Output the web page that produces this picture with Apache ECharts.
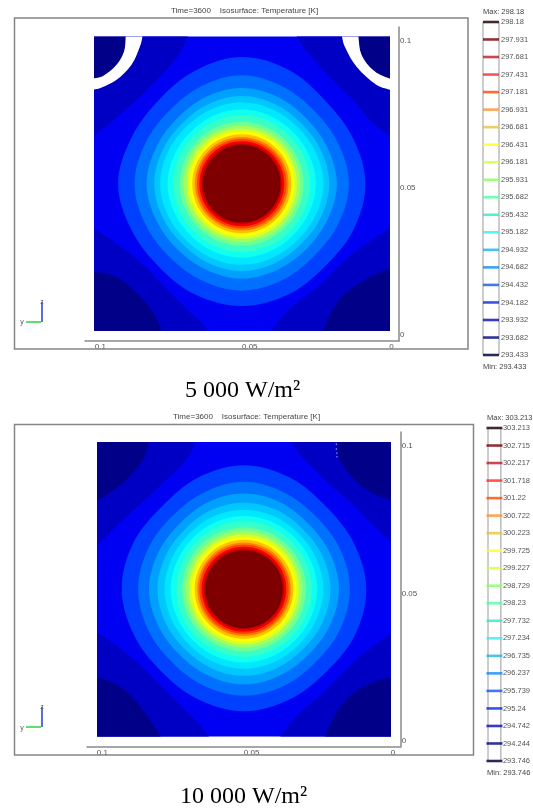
<!DOCTYPE html>
<html><head><meta charset="utf-8">
<style>html,body{margin:0;padding:0;background:#fff}#c{width:533px;height:809px;filter:blur(0.45px)}</style>
<script src="https://cdn.jsdelivr.net/npm/echarts@6/dist/echarts.min.js"></script>
</head><body><div id="c"></div>
<script>
// Contour radii in mm around the heated core, clockwise from N in 16 steps
const ringAngles16 = [0,22.5,45,67.5,90,112.5,135,157.5,180,202.5,225,247.5,270,292.5,315,337.5];
const ringColors = ['#0040ff','#0070ff','#00a0ff','#00c8ff','#00e8ff','#10ffee','#38ffc8','#70ff90','#a0ff60','#d8ff28','#ffff00','#ffc000','#ff8000','#ff4000','#f00000','#b00000','#7f0000'];
const rings5000 = [
 [43.0,41.8,40.0,40.8,42.0,41.0,39.8,40.8,41.5,40.8,39.8,40.6,42.0,40.6,40.0,41.5],
 [36.8,35.8,34.9,35.5,36.4,35.5,34.7,35.5,36.3,35.5,34.9,35.5,36.4,35.5,34.9,35.8],
 [32.5,31.9,31.2,31.6,32.3,31.6,31.2,31.6,32.2,31.6,31.2,31.6,32.3,31.6,31.2,31.9],
 [29.8,29.3,28.8,29.2,29.7,29.2,28.7,29.2,29.6,29.2,28.7,29.2,29.7,29.2,28.8,29.3],
 [27.6,27.3,27.0,27.3,27.7,27.3,26.9,27.2,27.5,27.2,26.9,27.3,27.7,27.3,27.0,27.3],
 [25.2,25.0,24.7,24.9,25.2,24.9,24.7,24.9,25.1,24.9,24.7,24.9,25.2,24.9,24.7,25.0],
 [23.3,23.2,23.0,23.1,23.2,23.1,23.0,23.1,23.2,23.1,23.0,23.1,23.2,23.1,23.0,23.2],
 [21.0,21.0,20.9,21.0,21.0,21.0,20.9,21.0,21.0,21.0,20.9,21.0,21.0,21.0,20.9,21.0],
 [19.8,19.8,19.8,19.8,19.8,19.8,19.8,19.8,19.8,19.8,19.8,19.8,19.8,19.8,19.8,19.8],
 [18.7,18.7,18.7,18.7,18.7,18.7,18.7,18.7,18.7,18.7,18.7,18.7,18.7,18.7,18.7,18.7],
 [17.8,17.8,17.8,17.8,17.8,17.8,17.8,17.8,17.8,17.8,17.8,17.8,17.8,17.8,17.8,17.8],
 [16.8,16.8,16.8,16.8,16.8,16.8,16.8,16.8,16.8,16.8,16.8,16.8,16.8,16.8,16.8,16.8],
 [15.9,15.9,15.9,15.9,15.9,15.9,15.9,15.9,15.9,15.9,15.9,15.9,15.9,15.9,15.9,15.9],
 [15.2,15.2,15.2,15.2,15.2,15.2,15.2,15.2,15.2,15.2,15.2,15.2,15.2,15.2,15.2,15.2],
 [14.4,14.4,14.4,14.4,14.4,14.4,14.4,14.4,14.4,14.4,14.4,14.4,14.4,14.4,14.4,14.4],
 [13.6,13.6,13.6,13.6,13.6,13.6,13.6,13.6,13.6,13.6,13.6,13.6,13.6,13.6,13.6,13.6],
 [12.85,12.85,12.85,12.85,12.85,12.85,12.85,12.85,12.85,12.85,12.85,12.85,12.85,12.85,12.85,12.85]
];
const rings10000 = [
 [42.1,41.0,39.6,40.5,41.6,40.8,39.6,40.5,41.4,40.5,39.6,40.5,41.6,40.8,39.6,41.0],
 [36.5,35.6,34.8,35.4,36.0,35.4,34.7,35.5,36.2,35.5,34.8,35.4,36.0,35.4,34.8,35.6],
 [32.5,32.0,31.2,31.7,32.3,31.7,31.2,31.7,32.3,31.7,31.2,31.7,32.3,31.7,31.2,32.0],
 [29.4,29.1,28.6,29.0,29.4,29.0,28.6,29.0,29.4,29.0,28.6,29.0,29.4,29.0,28.6,29.1],
 [27.0,26.8,26.5,26.7,27.0,26.7,26.5,26.7,27.0,26.7,26.5,26.7,27.0,26.7,26.5,26.8],
 [24.9,24.8,24.6,24.7,24.9,24.7,24.6,24.7,24.9,24.7,24.6,24.7,24.9,24.7,24.6,24.8],
 [23.0,23.0,22.9,22.9,23.0,22.9,22.9,22.9,23.0,22.9,22.9,22.9,23.0,22.9,22.9,23.0],
 [21.0,21.0,21.0,21.0,21.0,21.0,21.0,21.0,21.0,21.0,21.0,21.0,21.0,21.0,21.0,21.0],
 [19.8,19.8,19.8,19.8,19.8,19.8,19.8,19.8,19.8,19.8,19.8,19.8,19.8,19.8,19.8,19.8],
 [18.7,18.7,18.7,18.7,18.7,18.7,18.7,18.7,18.7,18.7,18.7,18.7,18.7,18.7,18.7,18.7],
 [17.8,17.8,17.8,17.8,17.8,17.8,17.8,17.8,17.8,17.8,17.8,17.8,17.8,17.8,17.8,17.8],
 [16.8,16.8,16.8,16.8,16.8,16.8,16.8,16.8,16.8,16.8,16.8,16.8,16.8,16.8,16.8,16.8],
 [15.9,15.9,15.9,15.9,15.9,15.9,15.9,15.9,15.9,15.9,15.9,15.9,15.9,15.9,15.9,15.9],
 [15.2,15.2,15.2,15.2,15.2,15.2,15.2,15.2,15.2,15.2,15.2,15.2,15.2,15.2,15.2,15.2],
 [14.4,14.4,14.4,14.4,14.4,14.4,14.4,14.4,14.4,14.4,14.4,14.4,14.4,14.4,14.4,14.4],
 [13.6,13.6,13.6,13.6,13.6,13.6,13.6,13.6,13.6,13.6,13.6,13.6,13.6,13.6,13.6,13.6],
 [12.9,12.9,12.9,12.9,12.9,12.9,12.9,12.9,12.9,12.9,12.9,12.9,12.9,12.9,12.9,12.9]
];
// Corner regions, [x,y] in mm (x runs 100 to 0 left to right); ends go past the plot edge and get clipped
const blueBase = [[-10,-10],[110,-10],[110,110],[-10,110]];
const darkCorners5000 = [
 [[67.6,105],[68.2,100.2],[71.9,93.1],[77.3,86.9],[84.6,79.5],[92.6,72.4],[100.2,66.3],[105,62.5],[105,105]],
 [[31.4,100.2],[26.9,93.7],[20.6,86.9],[12.1,78.4],[6.5,71.6],[0,66.3],[-4.9,62.5],[-4.9,105],[33,105]],
 [[-4.9,38],[0,34.8],[7.6,29.7],[15.5,23.5],[23.5,15.5],[33.6,7.6],[39.9,0],[42,-4.9],[-4.9,-4.9]],
 [[105,38],[100.2,34.8],[92.6,29.7],[84.6,23.5],[76.7,15.5],[68.8,7.6],[61.4,0],[60,-4.9],[105,-4.9]]
];
const navyCorners5000 = [
 [[-4.9,22],[0,21.2],[8.7,17],[15.5,12.1],[20.1,5.3],[22.3,0],[23,-4.9],[-4.9,-4.9]],
 [[105,20],[100.2,20.1],[92.6,18.4],[85.8,13],[80.1,6.4],[77.3,0],[76,-4.9],[105,-4.9]]
];
const whiteCaps5000 = [
 [[83.5,105],[83.7,100.2],[84.6,96.5],[87.5,90.3],[92.6,85.2],[98.2,82.4],[100.2,82],[105,81],[105,105]],
 [[16.5,105],[16,100.2],[15,96.5],[11,89.7],[4.2,83.5],[0,82],[-4.9,81],[-4.9,105]]
];
const navyCaps5000 = [
 [[89.2,105],[89.4,100.2],[90,94.8],[92.6,90.3],[97.1,86.6],[100.2,85.8],[105,85.5],[105,105]],
 [[10.7,105],[10.4,100.2],[9.3,93.7],[5.3,88.5],[0,85.8],[-4.9,85.5],[-4.9,105]]
];
const darkCorners10000 = [
 [[66,105],[66.5,99.9],[69.9,93.7],[77.3,86.3],[84.6,79.5],[92.6,72.2],[99.9,64.8],[105,60],[105,105]],
 [[33,105],[33.6,99.9],[29.1,93.7],[22.3,86.9],[13.3,79],[6.5,72.2],[0,65.9],[-4.9,60],[-4.9,105]],
 [[-4.9,38],[0,34.8],[7.6,29.7],[14.4,23.5],[23.5,14.4],[31.4,7.6],[37.6,0],[40,-4.9],[-4.9,-4.9]],
 [[105,38],[99.9,35.3],[92.6,30.3],[84.6,23.5],[75.6,14.4],[67.6,6.5],[62,0],[60,-4.9],[105,-4.9]]
];
const navyCorners10000 = [
 [[-4.9,20],[0,20.1],[8.7,17.2],[15.5,12.1],[20.1,5.3],[22.3,0],[23,-4.9],[-4.9,-4.9]],
 [[105,20],[99.9,20.1],[92.6,17.2],[86.9,12.1],[81.8,5.3],[78.4,0],[77,-4.9],[105,-4.9]],
 [[81.5,105],[82.4,99.9],[84.6,93.7],[90.3,86.9],[95.4,82.9],[99.9,80.1],[105,77],[105,105]],
 [[18,105],[18.4,99.9],[17.2,93.7],[12.1,86.9],[5.9,82.4],[0,80.1],[-4.9,77],[-4.9,105]]
];
const specks10000 = [[18.6,99.2],[18.6,97.6],[18.4,96.2],[18.4,95]];
const xTickValues = [0.1,0.05,0];
const yTickValues = [0.1,0.05,0];
const legendValues5000 = [298.18,297.931,297.681,297.431,297.181,296.931,296.681,296.431,296.181,295.931,295.682,295.432,295.182,294.932,294.682,294.432,294.182,293.932,293.682,293.433];
const legendValues10000 = [303.213,302.715,302.217,301.718,301.22,300.722,300.223,299.725,299.227,298.729,298.23,297.732,297.234,296.735,296.237,295.739,295.24,294.742,294.244,293.746];
const legendColors = ['#200000','#780008','#c01828','#ff2828','#ff4800','#ff9030','#e8c040','#ffff18','#d0ff38','#88ff60','#50ffa0','#30e8c0','#30f0f0','#20b0e8','#1088f0','#1058f0','#0828e0','#0808c0','#000088','#000040'];

const NAVY='#000088', DARK='#0000c4', BLUE='#0000f2';
function layersFor(rings, dark, navy, white, caps){
  const L=[];
  L.push({pts:blueBase,color:BLUE,smooth:0});
  dark.forEach(p=>L.push({pts:p,color:DARK,smooth:0.35}));
  navy.forEach(p=>L.push({pts:p,color:NAVY,smooth:0.35}));
  white.forEach(p=>L.push({pts:p,color:'#ffffff',smooth:0.35}));
  caps.forEach(p=>L.push({pts:p,color:NAVY,smooth:0.35}));
  rings.forEach((r,i)=>{
    const pts=r.map((v,k)=>{const a=ringAngles16[k]*Math.PI/180;return [50-v*Math.sin(a),50+v*Math.cos(a)];});
    L.push({pts,color:ringColors[i],smooth:0.35,stroke:i===rings.length-1?'#5c0000':null});
  });
  return L;
}
function contourSeries(layers,gi,name){
  return {type:'custom',name,coordinateSystem:'cartesian2d',xAxisIndex:gi,yAxisIndex:gi,clip:true,silent:true,
    data:layers.map((_,i)=>i),
    renderItem(params,api){
      const l=layers[api.value(0)];
      return {type:'polygon',shape:{points:l.pts.map(p=>api.coord([p[0]/1000,p[1]/1000])),smooth:l.smooth},
        style:{fill:l.color,stroke:l.stroke||null,lineWidth:l.stroke?1:0}};
    }};
}
const axisFont={fontFamily:'Liberation Sans',fontSize:7.5,color:'#555'};
const tickFont={fontFamily:'Liberation Sans',fontSize:8,color:'#555'};
function plotAxes(plot,outer){
  const fx=(outer.width-plot.width)/2/plot.width*0.1, fy=(outer.height-plot.height)/2/plot.height*0.1;
  return {
   grids:[{left:plot.left,top:plot.top,width:plot.width,height:plot.height,show:true,borderColor:'#667',borderWidth:0,backgroundColor:'transparent'},
          {left:outer.left,top:outer.top,width:outer.width,height:outer.height}],
   xs:[{gridIndex:0,type:'value',min:0,max:0.1,inverse:true,show:false},
       {gridIndex:1,type:'value',min:-fx,max:0.1+fx,inverse:true,position:'bottom',splitLine:{show:false},axisLine:{onZero:false,lineStyle:{color:'#8a8a8a',width:1.5}},axisTick:{show:false},
        axisLabel:Object.assign({customValues:xTickValues,formatter:v=>String(v),align:'left',verticalAlign:'top',margin:2,hideOverlap:false,showMinLabel:true,showMaxLabel:true},tickFont)}],
   ys:[{gridIndex:0,type:'value',min:0,max:0.1,show:false},
       {gridIndex:1,type:'value',min:-fy,max:0.1+fy,position:'right',splitLine:{show:false},axisLine:{onZero:false,lineStyle:{color:'#8a8a8a',width:1.5}},axisTick:{show:false},
        axisLabel:Object.assign({customValues:yTickValues,formatter:v=>String(v),align:'left',verticalAlign:'top',margin:1},tickFont)}]
  };
}
const plotA={left:94.5,top:36.5,width:294.5,height:294.5}, outerA={left:85,top:27,width:314,height:314};
const plotB={left:97,top:442,width:294,height:294.5}, outerB={left:87,top:432,width:313.7,height:314.7};
const axA=plotAxes(plotA,outerA), axB=plotAxes(plotB,outerB);
// shift axis index for plot B
[axB.xs,axB.ys].forEach(a=>a.forEach(o=>o.gridIndex+=2));
function legendAxes(box,vals,gi){
  return {grid:{left:box.left,top:box.top,width:box.width,height:box.height,show:true,borderColor:'#9a9a9a',borderWidth:1,backgroundColor:'#fff'},
    x:{gridIndex:gi,type:'value',min:0,max:1,show:false},
    y:{gridIndex:gi,type:'value',min:vals[vals.length-1],max:vals[0],position:'right',splitLine:{show:false},axisLine:{show:false},axisTick:{show:false},
       axisLabel:Object.assign({customValues:vals,formatter:v=>String(v),margin:2,align:'left',verticalAlign:'middle',hideOverlap:false},axisFont)}};
}
const boxA={left:483,top:22,width:16,height:333}, boxB={left:488,top:428,width:15.5,height:333};
const lgA=legendAxes(boxA,legendValues5000,4), lgB=legendAxes(boxB,legendValues10000,5);
function legendSeries(vals,gi,name){
  return {type:'scatter',name,xAxisIndex:gi,yAxisIndex:gi,symbol:'rect',symbolSize:[16,2.6],silent:true,clip:false,
    data:vals.map((v,i)=>({value:[0.5,v],itemStyle:{color:legendColors[i]}}))};
}
const chart=echarts.init(document.getElementById('c'),null,{width:533,height:809});
const tt=(text,left,top,style)=>({text,left,top,padding:0,textStyle:Object.assign({fontFamily:'Liberation Sans',fontSize:7.5,fontWeight:'normal',color:'#444'},style||{})});
const cap={fontFamily:'Liberation Serif',fontSize:24,color:'#000'};
const frame=(x,y,w,h)=>({type:'rect',shape:{x,y,width:w,height:h},style:{fill:'none',stroke:'#858585',lineWidth:1.5},z:50});
const cover=(x,y,w,h)=>({type:'rect',shape:{x,y,width:w,height:h},style:{fill:'#fff'},z:49});
const ln=(x1,y1,x2,y2,c,w)=>({type:'line',shape:{x1,y1,x2,y2},style:{stroke:c,lineWidth:w},z:50});
const gt=(text,x,y)=>({type:'text',x,y,style:{text,fontFamily:'Liberation Sans',fontSize:7,fill:'#555',align:'center',verticalAlign:'middle'},z:50});
chart.setOption({
  animation:false,backgroundColor:'#fff',
  title:[
    tt('Time=3600    Isosurface: Temperature [K]',171,7,{fontSize:8}),
    tt('Time=3600    Isosurface: Temperature [K]',173,413,{fontSize:8}),
    tt('Max: 298.18',483,8),tt('Min: 293.433',483,363),
    tt('Max: 303.213',487,414),tt('Min: 293.746',487,769),
    {text:'5 000 W/m\u00b2',left:185,top:379,padding:0,textStyle:Object.assign({fontWeight:'normal'},cap)},
    {text:'10 000 W/m\u00b2',left:180,top:785,padding:0,textStyle:Object.assign({fontWeight:'normal'},cap)}
  ],
  grid:[...axA.grids,...axB.grids,lgA.grid,lgB.grid],
  xAxis:[...axA.xs,...axB.xs,lgA.x,lgB.x],
  yAxis:[...axA.ys,...axB.ys,lgA.y,lgB.y],
  graphic:[
    cover(10,350,460,4),cover(10,756,470,4),
    frame(14.5,18,453.5,331),frame(14.5,424.5,459,330.5),
    ln(42,302,42,322,'#2040d0',1.5),ln(26,322,41,322,'#30d040',1.5),gt('z',42,302),gt('y',22,322),
    ln(42,707,42,727,'#2040d0',1.5),ln(26,727,41,727,'#30d040',1.5),gt('z',42,707),gt('y',22,728)
  ],
  series:[
    contourSeries(layersFor(rings5000,darkCorners5000,navyCorners5000,whiteCaps5000,navyCaps5000),0,'5 000 W/m2'),
    contourSeries(layersFor(rings10000,darkCorners10000,navyCorners10000,[],[]),2,'10 000 W/m2'),
    {type:'scatter',name:'marks',xAxisIndex:2,yAxisIndex:2,symbol:'rect',symbolSize:[1,1.5],silent:true,
      data:specks10000.map(p=>[p[0]/1000,p[1]/1000]),itemStyle:{color:'#b8d8ff'},z:5},
    legendSeries(legendValues5000,4,'legend 5 000'),
    legendSeries(legendValues10000,5,'legend 10 000')
  ]
});
</script></body></html>
